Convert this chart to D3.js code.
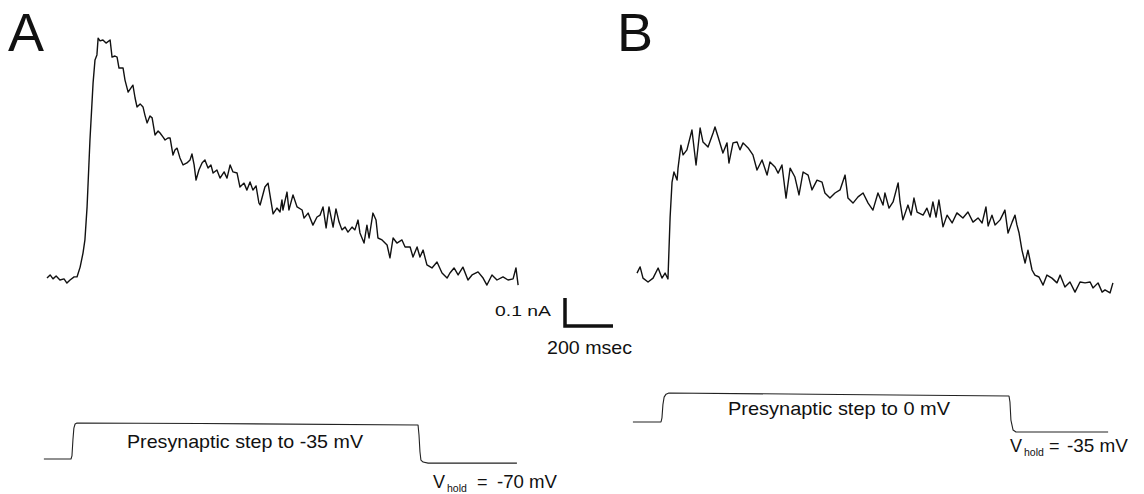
<!DOCTYPE html>
<html>
<head>
<meta charset="utf-8">
<script src="https://cdn.jsdelivr.net/npm/d3@7"></script>
<style>
  html, body { margin: 0; padding: 0; background: #fff; }
  svg { display: block; font-family: "Liberation Sans", Arial, Helvetica, sans-serif; }
</style>
</head>
<body>
<svg id="chart" width="1144" height="494"></svg>
<script>
// ---- Data (time in ms from trace start, current in nA, voltage in mV) ----
const timeA = [0,13,25,38,54,71,83,96,113,125,138,150,158,167,179,192,200,208,213,221,233,246,263,271,283,292,300,317,325,338,350,358,367,375,388,400,408,417,429,438,450,463,471,483,492,504,513,525,533,542,554,567,583,596,604,613,621,633,646,658,671,683,692,708,721,738,750,763,775,792,804,821,833,846,858,871,883,888,908,921,942,958,971,979,983,1000,1008,1025,1042,1063,1071,1088,1108,1125,1138,1150,1163,1175,1192,1204,1217,1229,1242,1254,1271,1283,1296,1304,1321,1333,1342,1358,1371,1379,1396,1417,1429,1442,1458,1479,1492,1513,1525,1542,1554,1567,1583,1604,1625,1646,1667,1679,1696,1713,1733,1754,1771,1796,1817,1833,1854,1875,1900,1921,1942,1954,1963];
const currentA = [0.007,0.018,0.004,0.014,0,0.004,-0.011,0,0.011,0.011,0.046,0.096,0.143,0.261,0.5,0.704,0.786,0.804,0.864,0.854,0.857,0.846,0.857,0.796,0.8,0.796,0.757,0.757,0.714,0.671,0.686,0.696,0.65,0.618,0.629,0.618,0.589,0.561,0.586,0.579,0.518,0.532,0.525,0.511,0.5,0.507,0.507,0.446,0.464,0.471,0.436,0.411,0.418,0.429,0.45,0.411,0.357,0.393,0.418,0.429,0.4,0.411,0.382,0.393,0.364,0.386,0.364,0.411,0.386,0.382,0.332,0.346,0.321,0.35,0.321,0.336,0.275,0.268,0.332,0.346,0.236,0.257,0.243,0.286,0.25,0.314,0.25,0.304,0.261,0.25,0.221,0.239,0.196,0.225,0.232,0.261,0.186,0.261,0.189,0.254,0.207,0.179,0.189,0.171,0.189,0.179,0.214,0.168,0.132,0.196,0.15,0.239,0.214,0.15,0.143,0.125,0.079,0.15,0.132,0.143,0.118,0.118,0.082,0.118,0.082,0.107,0.054,0.043,0.064,0.025,0.007,0.025,0.043,0.018,0.046,0,0.018,0.029,0.007,-0.018,0.018,0,0.011,0,0.004,0.043,-0.018];

const timeB = [0,13,25,46,67,88,104,117,129,138,146,154,167,171,183,192,208,229,246,263,275,296,317,325,338,358,375,383,400,417,429,442,463,483,500,521,542,554,575,588,604,621,638,658,675,692,713,729,750,771,783,804,825,846,867,879,900,921,942,963,983,1004,1025,1033,1050,1067,1088,1096,1108,1129,1142,1154,1167,1192,1208,1221,1233,1246,1258,1275,1292,1313,1333,1358,1379,1400,1421,1438,1454,1463,1479,1492,1513,1533,1546,1563,1575,1583,1592,1604,1617,1629,1646,1658,1675,1692,1708,1729,1750,1763,1783,1804,1825,1846,1867,1888,1900,1921,1938,1950,1971,1983];
const currentB = [0.014,0.036,-0.004,-0.018,-0.004,0.032,-0.004,0.014,-0.007,0.214,0.339,0.375,0.346,0.389,0.471,0.436,0.454,0.525,0.4,0.532,0.482,0.464,0.514,0.536,0.5,0.443,0.479,0.407,0.479,0.482,0.454,0.479,0.461,0.436,0.382,0.418,0.364,0.411,0.393,0.371,0.4,0.282,0.389,0.357,0.293,0.375,0.364,0.311,0.346,0.339,0.3,0.282,0.3,0.311,0.364,0.282,0.264,0.286,0.3,0.264,0.239,0.3,0.257,0.3,0.246,0.268,0.336,0.268,0.204,0.257,0.221,0.282,0.232,0.221,0.246,0.214,0.268,0.214,0.275,0.179,0.221,0.193,0.229,0.211,0.232,0.196,0.211,0.193,0.25,0.182,0.221,0.186,0.204,0.239,0.157,0.196,0.221,0.186,0.157,0.096,0.05,0.096,0.025,0.007,0,-0.029,0.007,-0.004,-0.021,0.007,-0.036,-0.018,-0.054,-0.018,-0.021,-0.018,-0.039,-0.021,-0.054,-0.046,-0.057,-0.021];

const stepTimeA = [-13,100,104,108,112,117,125,638,1546,1550,1554,1558,1567,1588,1958];
const stepVoltA = [-70,-70,-67,-51.5,-40,-36,-35,-35.5,-37,-46.7,-63,-71,-73,-74,-74];
const stepTimeB = [-17,100,104,108,113,121,133,846,1550,1554,1558,1567,1579,1963];
const stepVoltB = [-35,-35,-30,-14,-5,-1.4,0,-1.8,-3.6,-10.9,-32.6,-44.7,-47,-47];

const panelLabels = ["A", "B"];
const stepLabels = ["Presynaptic step to -35 mV", "Presynaptic step to 0 mV"];
const holdValues = ["-70 mV", "-35 mV"];
const scaleBarValues = [0.1, 200];          // nA, ms
const scaleBarLabels = ["0.1 nA", "200 msec"];

// ---- Drawing ----
const svg = d3.select("#chart");
svg.append("rect").attr("width", 1144).attr("height", 494).attr("fill", "#fff");

const pxPerMs = 0.24, pxPerNA = 280;
const xA = d3.scaleLinear().domain([0, 2000]).range([47, 47 + 2000 * pxPerMs]);
const xB = d3.scaleLinear().domain([0, 2000]).range([637, 637 + 2000 * pxPerMs]);
const yA = d3.scaleLinear().domain([0, 1]).range([280, 280 - pxPerNA]);
const yB = d3.scaleLinear().domain([0, 1]).range([277, 277 - pxPerNA]);
const vA = d3.scaleLinear().domain([-70, -35]).range([459, 423]);
const vB = d3.scaleLinear().domain([-35, 0]).range([422, 393]);

function trace(times, vals, xs, ys, width, color) {
  const data = times.map((t, i) => [t, vals[i]]);
  svg.append("path")
    .datum(data)
    .attr("fill", "none")
    .attr("stroke", color)
    .attr("stroke-width", width)
    .attr("stroke-linejoin", "round")
    .attr("d", d3.line().x(d => xs(d[0])).y(d => ys(d[1])));
}

trace(timeA, currentA, xA, yA, 1.4, "#111");
trace(timeB, currentB, xB, yB, 1.4, "#111");
trace(stepTimeA, stepVoltA, xA, vA, 1.1, "#222");
trace(stepTimeB, stepVoltB, xB, vB, 1.1, "#222");

// Panel letters
svg.append("text").attr("x", 8).attr("y", 51).attr("font-size", 54).attr("fill", "#111").text(panelLabels[0]);
svg.append("text").attr("x", 617).attr("y", 51).attr("font-size", 54).attr("fill", "#111").text(panelLabels[1]);

// Scale bar
const sbX = 565, sbY = 326;
const sbW = xA(scaleBarValues[1]) - xA(0);
const sbH = yA(0) - yA(scaleBarValues[0]);
svg.append("path")
  .attr("d", `M${sbX},${sbY - sbH}V${sbY}H${sbX + sbW}`)
  .attr("fill", "none").attr("stroke", "#111").attr("stroke-width", 3.5)
  .attr("stroke-linecap", "butt").attr("stroke-linejoin", "miter");
svg.append("text").attr("x", 495).attr("y", 316).attr("font-size", 14)
  .attr("textLength", 56).attr("lengthAdjust", "spacingAndGlyphs").attr("fill", "#111").text(scaleBarLabels[0]);
svg.append("text").attr("x", 547).attr("y", 354).attr("font-size", 19)
  .attr("textLength", 85).attr("lengthAdjust", "spacingAndGlyphs").attr("fill", "#111").text(scaleBarLabels[1]);

// Step labels
svg.append("text").attr("x", 127).attr("y", 448).attr("font-size", 19)
  .attr("textLength", 236).attr("lengthAdjust", "spacingAndGlyphs").attr("fill", "#111").text(stepLabels[0]);
svg.append("text").attr("x", 728).attr("y", 415).attr("font-size", 18.5)
  .attr("textLength", 222).attr("lengthAdjust", "spacingAndGlyphs").attr("fill", "#111").text(stepLabels[1]);

// V_hold labels
function vhold(x, y, eqX, valX, valW, val) {
  svg.append("text").attr("x", x).attr("y", y).attr("font-size", 18).attr("fill", "#111").text("V");
  svg.append("text").attr("x", x + 14).attr("y", y + 4).attr("font-size", 10.5).attr("fill", "#111").text("hold");
  svg.append("text").attr("x", eqX).attr("y", y).attr("font-size", 18).attr("fill", "#111").text("=");
  svg.append("text").attr("x", valX).attr("y", y).attr("font-size", 18)
    .attr("textLength", valW).attr("lengthAdjust", "spacingAndGlyphs").attr("fill", "#111").text(val);
}
vhold(433, 488, 477, 497, 60, holdValues[0]);
vhold(1010, 452, 1049, 1067, 61, holdValues[1]);
</script>
</body>
</html>
